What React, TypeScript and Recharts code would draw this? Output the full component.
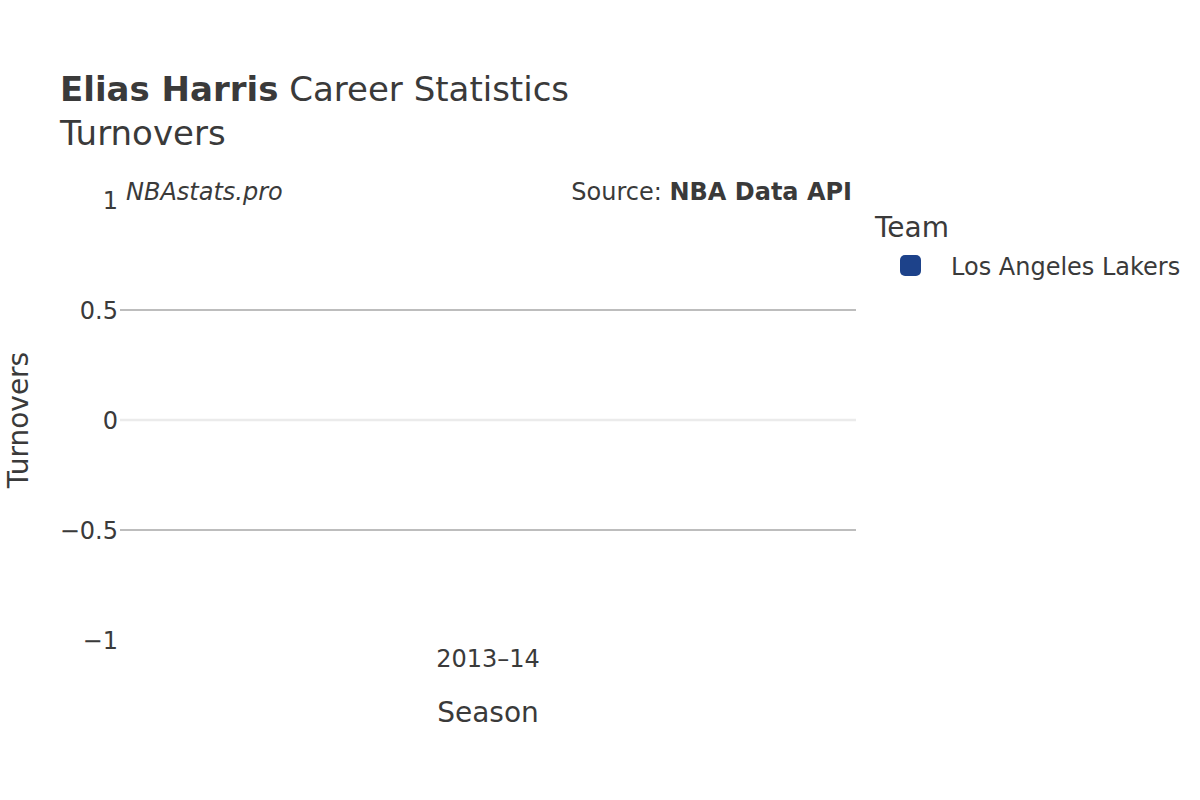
import React from "react";
import { BarChart, Bar, XAxis, YAxis, CartesianGrid, ReferenceLine } from "recharts";

const seasons = ["2013–14"];
const teams = ["Los Angeles Lakers"];
const turnovers = [0];
const yTicks = [-1, -0.5, 0, 0.5, 1];
const teamColors = ["#1d428a"];

const data = seasons.map((s, i) => ({ season: s, value: turnovers[i] }));

const FONT = "DejaVu Sans, sans-serif";
const TXT = "#3a3a3a";

const fmt = (v: number) => (v < 0 ? "\u2212" + String(Math.abs(v)) : String(v));

export default function App() {
  return (
    <div style={{ position: "absolute", left: 0, top: 0, width: 1200, height: 800, background: "#fff" }}>
      <BarChart
        width={1200}
        height={800}
        data={data}
        margin={{ top: 200, right: 344, bottom: 0, left: 0 }}
        barCategoryGap="10%"
      >
        <CartesianGrid vertical={false} horizontalValues={[-0.5, 0.5]} stroke="#bdbdbd" strokeWidth={2} />
        <XAxis
          dataKey="season"
          axisLine={false}
          tickLine={false}
          tickMargin={4}
          tick={{ fontFamily: FONT, fontSize: 24, fill: TXT }}
          height={160}
          label={{ value: "Season", position: "insideTop", dy: 57, style: { fontFamily: FONT, fontSize: 28, fill: TXT } }}
        />
        <YAxis
          width={120}
          domain={[-1, 1]}
          ticks={yTicks}
          type="number"
          axisLine={false}
          tickLine={false}
          tickSize={0}
          tickMargin={2}
          interval={0}
          tickFormatter={fmt}
          tick={{ fontFamily: FONT, fontSize: 24, fill: TXT }}
        />
        <ReferenceLine y={0} stroke="#ebebeb" strokeWidth={2.5} />
        <Bar dataKey="value" name={teams[0]} fill={teamColors[0]} isAnimationActive={false} />
      </BarChart>
      <svg
        width={1200}
        height={800}
        style={{ position: "absolute", left: 0, top: 0, pointerEvents: "none" }}
        fontFamily={FONT}
      >
        <text x={60} y={101} fontSize={34} fill={TXT}>
          <tspan fontWeight="bold">Elias Harris</tspan>
          <tspan> Career Statistics</tspan>
        </text>
        <text x={60} y={145} fontSize={34} fill={TXT}>
          Turnovers
        </text>
        <text x={126} y={200} fontSize={24} fontStyle="italic" fill={TXT}>
          NBAstats.pro
        </text>
        <text x={852} y={200} fontSize={24} textAnchor="end" fill={TXT}>
          <tspan>Source: </tspan>
          <tspan fontWeight="bold">NBA Data API</tspan>
        </text>
        <text
          x={0}
          y={0}
          fontSize={28}
          fill={TXT}
          textAnchor="middle"
          transform="translate(28 420) rotate(-90)"
        >
          Turnovers
        </text>
        <text x={875} y={237} fontSize={28} fill={TXT}>
          Team
        </text>
        {teams.map((t, i) => (
          <g key={t}>
            <rect x={900} y={255} width={21} height={21} rx={5} ry={5} fill={teamColors[i]} />
            <text x={951} y={275} fontSize={24} fill={TXT}>
              {t}
            </text>
          </g>
        ))}
      </svg>
    </div>
  );
}
